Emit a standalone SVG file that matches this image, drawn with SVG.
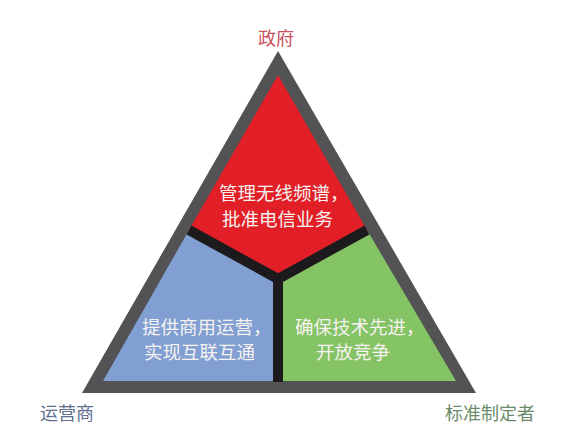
<svg xmlns="http://www.w3.org/2000/svg" width="566" height="437" viewBox="0 0 566 437">
<style>
text { font-family: "Noto Sans CJK SC", "Noto Sans", sans-serif; }
.in { fill: #f6f2f0; font-size: 18.5px; }
.lbl { font-size: 18px; }
</style>
<rect width="566" height="437" fill="#ffffff"/>
<g id="frame">
<polygon points="278,51 82,393 476,393" fill="#535254"/>
</g>
<g id="node-gov">
<polygon points="278,75 367,230 278,279 189,230" fill="#e21f26"/>
<text class="in" x="219" y="200">管理无线频谱，</text>
<text class="in" x="222" y="226">批准电信业务</text>
</g>
<g id="node-operator">
<polygon points="189,230 278,279 278,381 103,381" fill="#819fd2"/>
<text class="in" x="142" y="334">提供商用运营，</text>
<text class="in" x="144" y="359">实现互联互通</text>
</g>
<g id="node-standard">
<polygon points="367,230 456,381 278,381 278,279" fill="#85c465"/>
<text class="in" x="295" y="334">确保技术先进，</text>
<text class="in" x="316" y="359">开放竞争</text>
</g>
<g id="connectors">
<polyline points="189,230 278,279 367,230" fill="none" stroke="#1c1a1c" stroke-width="10" stroke-linejoin="miter"/>
<line x1="278" y1="279" x2="278" y2="382" stroke="#1c1a1c" stroke-width="10"/>
</g>
<g id="labels">
<text class="lbl" x="276" y="45" text-anchor="middle" fill="#c9525c">政府</text>
<text class="lbl" x="40" y="420" fill="#5c6f8c">运营商</text>
<text class="lbl" x="445" y="420" fill="#6b8c6b">标准制定者</text>
</g>
</svg>
